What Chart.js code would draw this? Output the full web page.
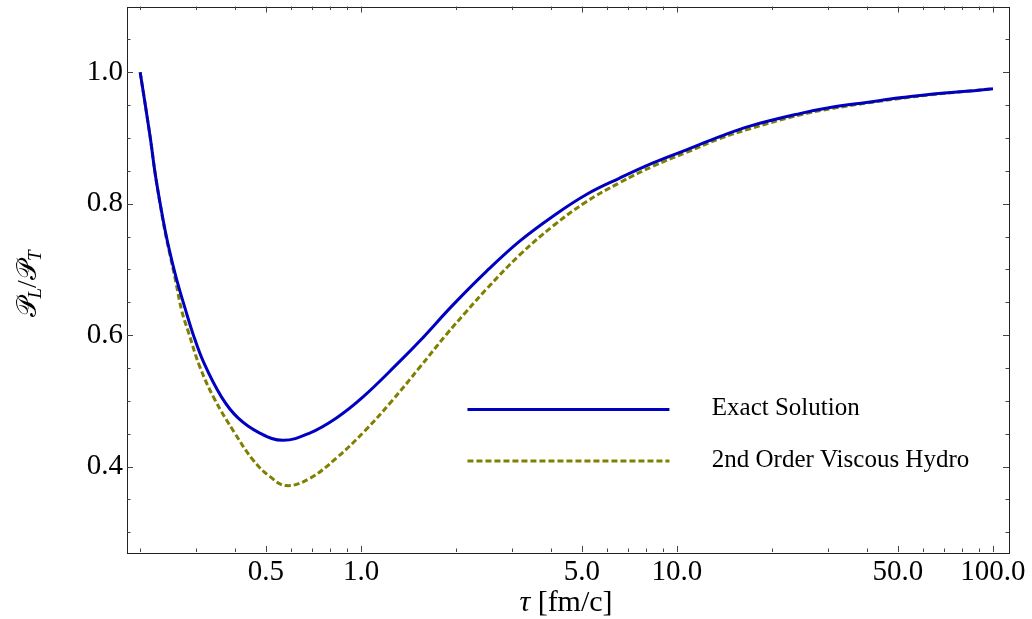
<!DOCTYPE html>
<html><head><meta charset="utf-8">
<script src="https://cdn.jsdelivr.net/npm/chart.js@4/dist/chart.umd.min.js"></script>
<style>html,body{margin:0;padding:0;background:#fff;}#wrap{width:1032px;height:619px;position:relative;}</style>
</head><body><div id="wrap"><canvas id="c" width="1032" height="619"></canvas></div>
<script>
const tauExact = [0.2, 0.2149, 0.2229, 0.2312, 0.2398, 0.2486, 0.2611, 0.2773, 0.2934, 0.318, 0.3616, 0.408, 0.478, 0.566, 0.688, 0.836, 1.015, 1.326, 1.534, 1.955, 2.494, 3.178, 4.051, 5.168, 6.588, 8.398, 10.71, 13.65, 17.0, 24.45, 31.17, 39.76, 50.67, 64.58, 82.39, 100];
const ratioExact = [1.0, 0.903, 0.847, 0.801, 0.760, 0.725, 0.684, 0.641, 0.603, 0.558, 0.506, 0.474, 0.451, 0.440, 0.451, 0.474, 0.506, 0.560, 0.591, 0.646, 0.697, 0.743, 0.781, 0.814, 0.839, 0.862, 0.882, 0.902, 0.918, 0.937, 0.947, 0.954, 0.961, 0.967, 0.971, 0.975];
const tauHydro = [0.2, 0.2149, 0.2229, 0.2312, 0.2398, 0.2486, 0.2593, 0.2708, 0.285, 0.3088, 0.3444, 0.3984, 0.4552, 0.514, 0.5806, 0.688, 0.836, 1.027, 1.248, 1.534, 1.863, 2.156, 2.494, 3.178, 4.051, 5.168, 6.588, 8.398, 10.71, 13.65, 17.0, 24.45, 31.17, 39.76, 50.67, 64.58, 82.39, 100];
const ratioHydro = [1.0, 0.903, 0.847, 0.800, 0.757, 0.722, 0.681, 0.637, 0.603, 0.552, 0.502, 0.451, 0.410, 0.385, 0.371, 0.382, 0.413, 0.454, 0.499, 0.551, 0.601, 0.636, 0.670, 0.722, 0.766, 0.803, 0.832, 0.857, 0.878, 0.899, 0.914, 0.935, 0.945, 0.953, 0.960, 0.966, 0.971, 0.975];
const seriesNames = ["Exact Solution", "2nd Order Viscous Hydro"];
const xMajorTicks = [0.5, 1, 5, 10, 50, 100];
const xTickLabels = ["0.5", "1.0", "5.0", "10.0", "50.0", "100.0"];
const xMinorTicks = [0.2, 0.3, 0.4, 0.6, 0.7, 0.8, 0.9, 2, 3, 4, 6, 7, 8, 9, 20, 30, 40, 60, 70, 80, 90];
const yMajorTicks = [0.4, 0.6, 0.8, 1.0];
const yTickLabels = ["0.4", "0.6", "0.8", "1.0"];
const yMinorTicks = [0.3, 0.35, 0.45, 0.5, 0.55, 0.65, 0.7, 0.75, 0.85, 0.9, 0.95, 1.05];

const SERIF = '"Liberation Serif", "Times New Roman", serif';
const BLUE = 'rgb(0,0,192)';
const OLIVE = 'rgb(128,128,0)';

function toPoints(xs, ys){ return xs.map((x,i)=>({x:x, y:ys[i]})); }

function drawParts(ctx, parts, cx, baseY){
  let w = 0;
  parts.forEach(p=>{ ctx.font = p.font; p.w = ctx.measureText(p.t).width; w += p.w + (p.dx||0); });
  let x = cx - w/2;
  parts.forEach(p=>{ ctx.font = p.font; x += (p.dx||0); ctx.fillText(p.t, x, baseY + (p.dy||0)); x += p.w; });
}

const framePlugin = {
  id: 'frame',
  afterDraw(chart){
    const ctx = chart.ctx, a = chart.chartArea;
    const xs = chart.scales.x, ys = chart.scales.y;
    ctx.save();
    ctx.strokeStyle = '#222'; ctx.lineWidth = 1;
    ctx.strokeRect(Math.round(a.left)+0.5, Math.round(a.top)+0.5, Math.round(a.right-a.left), Math.round(a.bottom-a.top));
    ctx.strokeStyle = '#444';
    const tick = (vals, len, horiz) => {
      vals.forEach(v=>{
        if (horiz){
          const p = Math.round(xs.getPixelForValue(v))+0.5;
          ctx.beginPath(); ctx.moveTo(p, a.bottom); ctx.lineTo(p, a.bottom-len);
          ctx.moveTo(p, a.top); ctx.lineTo(p, a.top+len); ctx.stroke();
        } else {
          const p = Math.round(ys.getPixelForValue(v))+0.5;
          ctx.beginPath(); ctx.moveTo(a.left, p); ctx.lineTo(a.left+len, p);
          ctx.moveTo(a.right, p); ctx.lineTo(a.right-len, p); ctx.stroke();
        }
      });
    };
    tick(xMajorTicks, 6, true); tick(xMinorTicks, 3.5, true);
    tick(yMajorTicks, 6, false); tick(yMinorTicks, 3.5, false);

    // legend
    const lx0 = a.left + 0.386*(a.right-a.left), lx1 = a.left + 0.615*(a.right-a.left);
    const tx = a.left + 0.663*(a.right-a.left);
    const ly = [409.5, 461];
    ctx.lineWidth = 3;
    ctx.strokeStyle = BLUE; ctx.setLineDash([]);
    ctx.beginPath(); ctx.moveTo(lx0, ly[0]); ctx.lineTo(lx1, ly[0]); ctx.stroke();
    ctx.strokeStyle = OLIVE; ctx.setLineDash([6,3]);
    ctx.beginPath(); ctx.moveTo(lx0, ly[1]); ctx.lineTo(lx1, ly[1]); ctx.stroke();
    ctx.setLineDash([]);
    ctx.fillStyle = '#000'; ctx.font = '25px ' + SERIF; ctx.textBaseline = 'middle'; ctx.textAlign = 'left';
    ctx.fillText(seriesNames[0], tx, ly[0]-1);
    ctx.fillText(seriesNames[1], tx, ly[1]-1);

    // x title
    ctx.textBaseline = 'alphabetic';
    drawParts(ctx, [
      {t:'τ', font:'italic 30px ' + SERIF},
      {t:' [fm/c]', font:'30px ' + SERIF}
    ], (a.left+a.right)/2 - 2, 611);

    // y title
    ctx.translate(36, 284);
    ctx.rotate(-Math.PI/2);
    drawParts(ctx, [
      {t:'𝒫', font:'27px "DejaVu Serif", "DejaVu Sans", serif'},
      {t:'L', font:'italic 19px ' + SERIF, dy:5},
      {t:'/', font:'28px ' + SERIF},
      {t:'𝒫', font:'27px "DejaVu Serif", "DejaVu Sans", serif'},
      {t:'T', font:'italic 19px ' + SERIF, dy:5}
    ], 0, 0);
    ctx.restore();
  }
};

new Chart(document.getElementById('c'), {
  type: 'line',
  data: {
    datasets: [
      { label: seriesNames[0], data: toPoints(tauExact, ratioExact), borderColor: BLUE, borderWidth: 3, pointRadius: 0, fill: false, tension: 0.4 },
      { label: seriesNames[1], data: toPoints(tauHydro, ratioHydro), borderColor: OLIVE, borderWidth: 3, borderDash: [6,3], pointRadius: 0, fill: false, tension: 0.4 }
    ]
  },
  options: {
    responsive: false, animation: false, devicePixelRatio: 1,
    layout: { padding: { top: 6.5, right: 23, left: 0, bottom: 0 } },
    plugins: { legend: { display: false }, tooltip: { enabled: false } },
    scales: {
      x: {
        type: 'logarithmic', min: 0.1817, max: 112.4,
        grid: { display: false, drawTicks: false }, border: { display: false },
        afterBuildTicks(s){ s.ticks = xMajorTicks.map(v=>({value:v})); },
        ticks: { autoSkip: false, maxRotation: 0, color: '#000', padding: 3,
          font: { family: SERIF, size: 29 },
          callback(v){ const i = xMajorTicks.indexOf(v); return i>=0 ? xTickLabels[i] : ''; } },
        afterFit(s){ s.height = 67; s.paddingLeft = 0; s.paddingRight = 0; }
      },
      y: {
        type: 'linear', min: 0.27, max: 1.1,
        grid: { display: false, drawTicks: false }, border: { display: false },
        afterBuildTicks(s){ s.ticks = yMajorTicks.map(v=>({value:v})); },
        ticks: { color: '#000', padding: 4, font: { family: SERIF, size: 29 },
          callback(v){ const i = yMajorTicks.findIndex(t=>Math.abs(t-v)<1e-9); return i>=0 ? yTickLabels[i] : ''; } },
        afterFit(s){ s.width = 127; s.paddingTop = 0; s.paddingBottom = 0; }
      }
    }
  },
  plugins: [framePlugin]
});
</script></body></html>
